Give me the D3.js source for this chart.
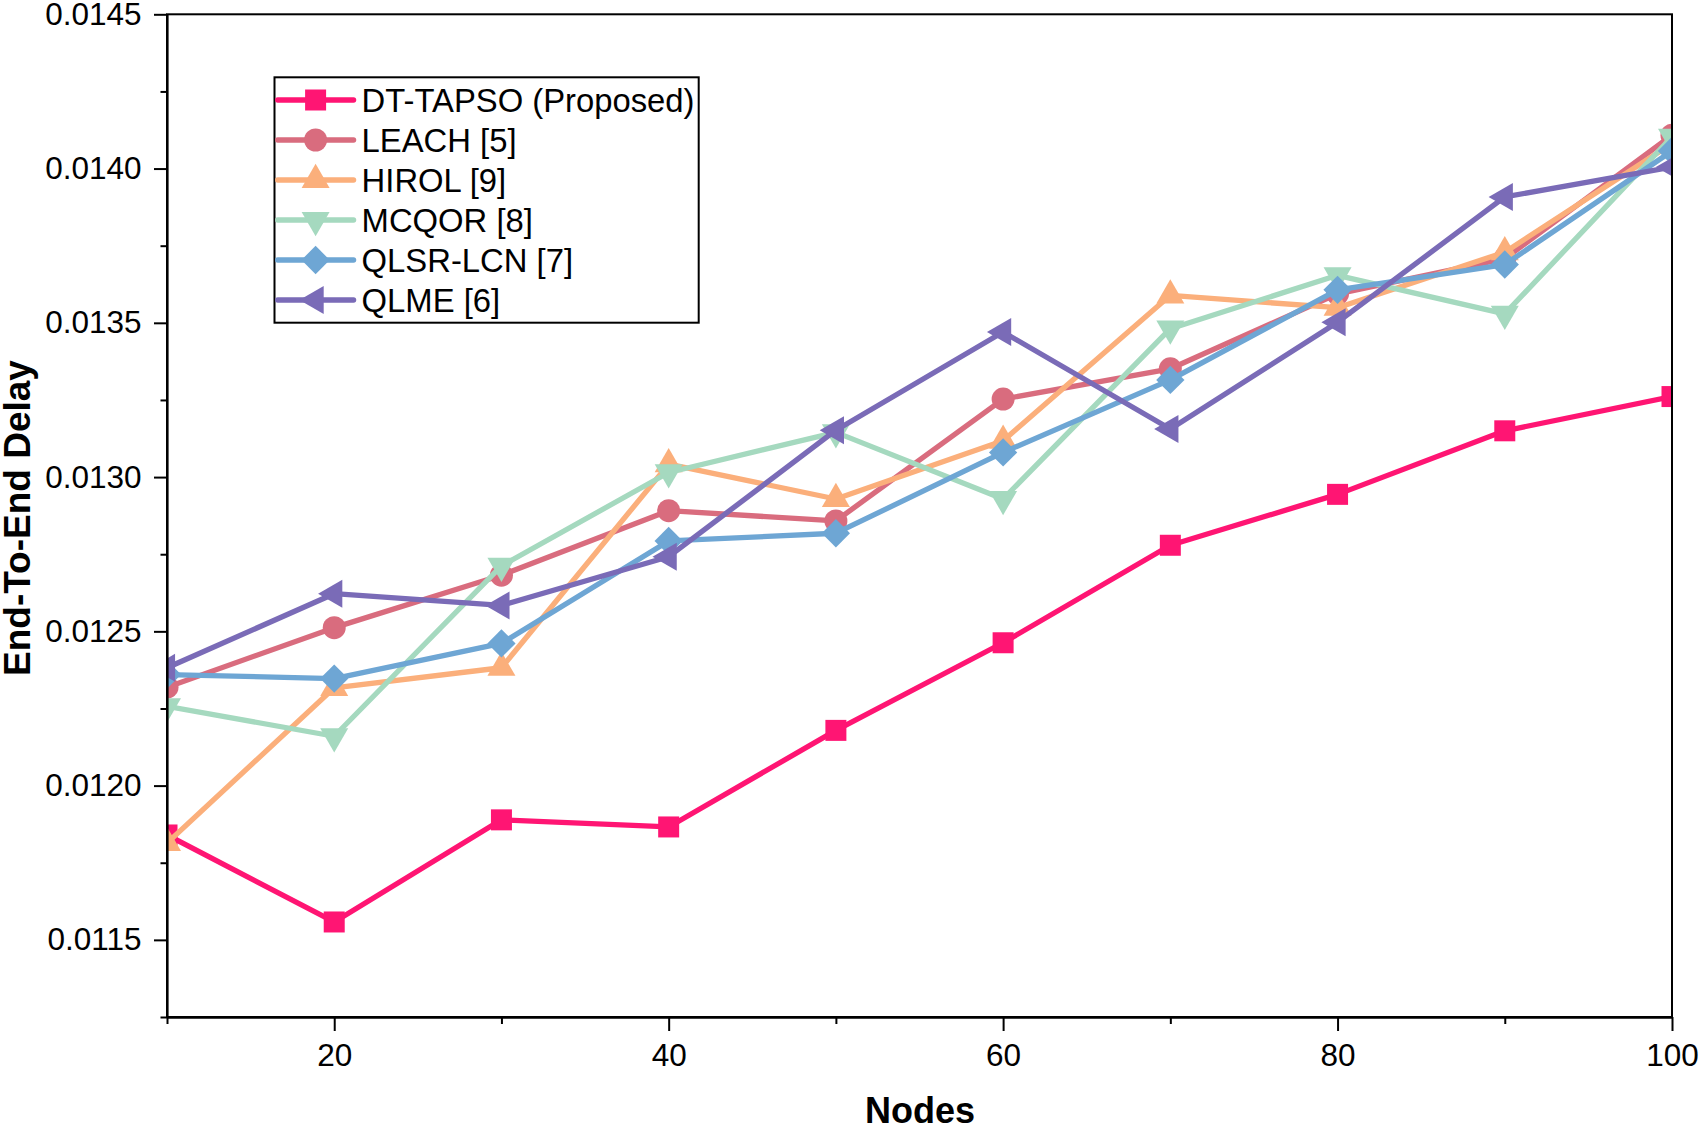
<!DOCTYPE html>
<html>
<head>
<meta charset="utf-8">
<script src="https://cdn.jsdelivr.net/npm/d3@7"></script>
<style>
  html, body { margin: 0; padding: 0; background: #fff; }
  svg { display: block; }
  text { font-family: "Liberation Sans", Arial, Helvetica, sans-serif; fill: #000; }
</style>
</head>
<body>
<svg id="chart" width="1700" height="1127"></svg>
<script>
// ---- data ----
const nodes = [10, 20, 30, 40, 50, 60, 70, 80, 90, 100];
const seriesNames = ["DT-TAPSO (Proposed)", "LEACH [5]", "HIROL [9]", "MCQOR [8]", "QLSR-LCN [7]", "QLME [6]"];
const dtTapso = [0.011840, 0.011558, 0.011889, 0.011866, 0.012179, 0.012463, 0.012779, 0.012944, 0.013150, 0.013261];
const leach   = [0.012319, 0.012512, 0.012682, 0.012891, 0.012858, 0.013253, 0.013351, 0.013594, 0.013708, 0.014108];
const hirol   = [0.011814, 0.012317, 0.012382, 0.013042, 0.012929, 0.013118, 0.013589, 0.013549, 0.013729, 0.014081];
const mcqor   = [0.012257, 0.012160, 0.012712, 0.013015, 0.013145, 0.012929, 0.013481, 0.013654, 0.013529, 0.014103];
const qlsrLcn = [0.012360, 0.012347, 0.012461, 0.012793, 0.012818, 0.013080, 0.013315, 0.013607, 0.013689, 0.014057];
const qlme    = [0.012382, 0.012622, 0.012584, 0.012742, 0.013152, 0.013470, 0.013156, 0.013502, 0.013908, 0.014005];
const xMajorTicks = [20, 40, 60, 80, 100];
const xMinorTicks = [10, 30, 50, 70, 90];
const yMajorTicks = [0.0115, 0.0120, 0.0125, 0.0130, 0.0135, 0.0140, 0.0145];
const yMinorTicks = [0.01125, 0.01175, 0.01225, 0.01275, 0.01325, 0.01375, 0.01425];
const xTitle = "Nodes";
const yTitle = "End-To-End Delay";

// ---- styles ----
const colors = ["#FF1573", "#D96C7E", "#FBAF7B", "#A5D9BF", "#6EA6D4", "#7A6BB7"];
const markerTypes = ["square", "circle", "triUp", "triDown", "diamond", "triLeft"];
const seriesValues = [dtTapso, leach, hirol, mcqor, qlsrLcn, qlme];

const plot = { left: 167, right: 1672, top: 14.3, bottom: 1017 };

const svg = d3.select("#chart");
const x = d3.scaleLinear().domain([10, 100]).range([plot.left, plot.right]);
const y = d3.scaleLinear().domain([0.01125, 0.0145]).range([plot.bottom, plot.top]);

function markerPath(type) {
  const sym = d3.symbol();
  if (type === "square") return { d: sym.type(d3.symbolSquare).size(21 * 21)(), rot: 0 };
  if (type === "circle") return { d: sym.type(d3.symbolCircle).size(Math.PI * 11.5 * 11.5)(), rot: 0 };
  if (type === "diamond") return { d: sym.type(d3.symbolSquare).size(20 * 20)(), rot: 45 };
  const tri = sym.type(d3.symbolTriangle).size(Math.sqrt(3) / 4 * 28 * 28)();
  if (type === "triUp") return { d: tri, rot: 0 };
  if (type === "triDown") return { d: tri, rot: 180 };
  return { d: tri, rot: -90 };
}

// clip
svg.append("defs").append("clipPath").attr("id", "plotClip")
  .append("rect")
  .attr("x", plot.left).attr("y", plot.top)
  .attr("width", plot.right - plot.left).attr("height", plot.bottom - plot.top);

// series
const lineGen = d3.line().x(d => x(d[0])).y(d => y(d[1]));
const seriesG = svg.append("g").attr("clip-path", "url(#plotClip)");
seriesValues.forEach((vals, i) => {
  const pts = nodes.map((n, k) => [n, vals[k]]);
  const g = seriesG.append("g");
  g.append("path").datum(pts)
    .attr("d", lineGen)
    .attr("fill", "none")
    .attr("stroke", colors[i])
    .attr("stroke-width", 5.3)
    .attr("stroke-linejoin", "round");
  const m = markerPath(markerTypes[i]);
  g.selectAll("path.mk").data(pts).join("path")
    .attr("class", "mk")
    .attr("d", m.d)
    .attr("transform", d => `translate(${x(d[0])},${y(d[1])}) rotate(${m.rot})`)
    .attr("fill", colors[i]);
});

// frame
svg.append("rect")
  .attr("x", plot.left).attr("y", plot.top)
  .attr("width", plot.right - plot.left).attr("height", plot.bottom - plot.top)
  .attr("fill", "none").attr("stroke", "#000").attr("stroke-width", 2);

const fontSize = 31.5;

// x axis
const xAxisMajor = d3.axisBottom(x).tickValues(xMajorTicks).tickFormat(d3.format("d"))
  .tickSize(14).tickSizeOuter(0).tickPadding(13);
const gx = svg.append("g").attr("transform", `translate(0,${plot.bottom})`).call(xAxisMajor);
gx.select(".domain").attr("stroke-width", 2.6);
gx.selectAll(".tick line").attr("stroke-width", 2);
gx.selectAll(".tick text").attr("font-size", fontSize).attr("font-family", null);
const gxm = svg.append("g").attr("transform", `translate(0,${plot.bottom})`)
  .call(d3.axisBottom(x).tickValues(xMinorTicks).tickFormat("").tickSize(7).tickSizeOuter(0));
gxm.select(".domain").remove();
gxm.selectAll(".tick line").attr("stroke-width", 2);

// y axis
const yAxisMajor = d3.axisLeft(y).tickValues(yMajorTicks).tickFormat(d3.format(".4f"))
  .tickSize(13).tickSizeOuter(0).tickPadding(12.5);
const gy = svg.append("g").attr("transform", `translate(${plot.left},0)`).call(yAxisMajor);
gy.select(".domain").attr("stroke-width", 2.2);
gy.selectAll(".tick line").attr("stroke-width", 2);
gy.selectAll(".tick text").attr("font-size", fontSize).attr("font-family", null);
const gym = svg.append("g").attr("transform", `translate(${plot.left},0)`)
  .call(d3.axisLeft(y).tickValues(yMinorTicks).tickFormat("").tickSize(6.5).tickSizeOuter(0));
gym.select(".domain").remove();
gym.selectAll(".tick line").attr("stroke-width", 2);

// axis titles
svg.append("text")
  .attr("x", 920).attr("y", 1123)
  .attr("text-anchor", "middle")
  .attr("font-size", 36).attr("font-weight", "bold")
  .text(xTitle);
svg.append("text")
  .attr("transform", "translate(30,518) rotate(-90)")
  .attr("text-anchor", "middle")
  .attr("font-size", 37).attr("font-weight", "bold")
  .text(yTitle);

// legend
const leg = { x0: 274.5, y0: 77.3, x1: 698.7, y1: 322.7, rowStart: 100, rowStep: 40 };
const lg = svg.append("g");
lg.append("rect")
  .attr("x", leg.x0).attr("y", leg.y0)
  .attr("width", leg.x1 - leg.x0).attr("height", leg.y1 - leg.y0)
  .attr("fill", "#fff").attr("stroke", "#000").attr("stroke-width", 2);
seriesNames.forEach((name, i) => {
  const ry = leg.rowStart + i * leg.rowStep;
  lg.append("line")
    .attr("x1", 277.7).attr("x2", 353.6).attr("y1", ry).attr("y2", ry)
    .attr("stroke", colors[i]).attr("stroke-width", 5.3).attr("stroke-linecap", "round");
  const m = markerPath(markerTypes[i]);
  lg.append("path").attr("d", m.d)
    .attr("transform", `translate(315.6,${ry}) rotate(${m.rot})`)
    .attr("fill", colors[i]);
  lg.append("text")
    .attr("x", 361.6).attr("y", ry + 11.5)
    .attr("font-size", 32.8)
    .text(name);
});
</script>
</body>
</html>
